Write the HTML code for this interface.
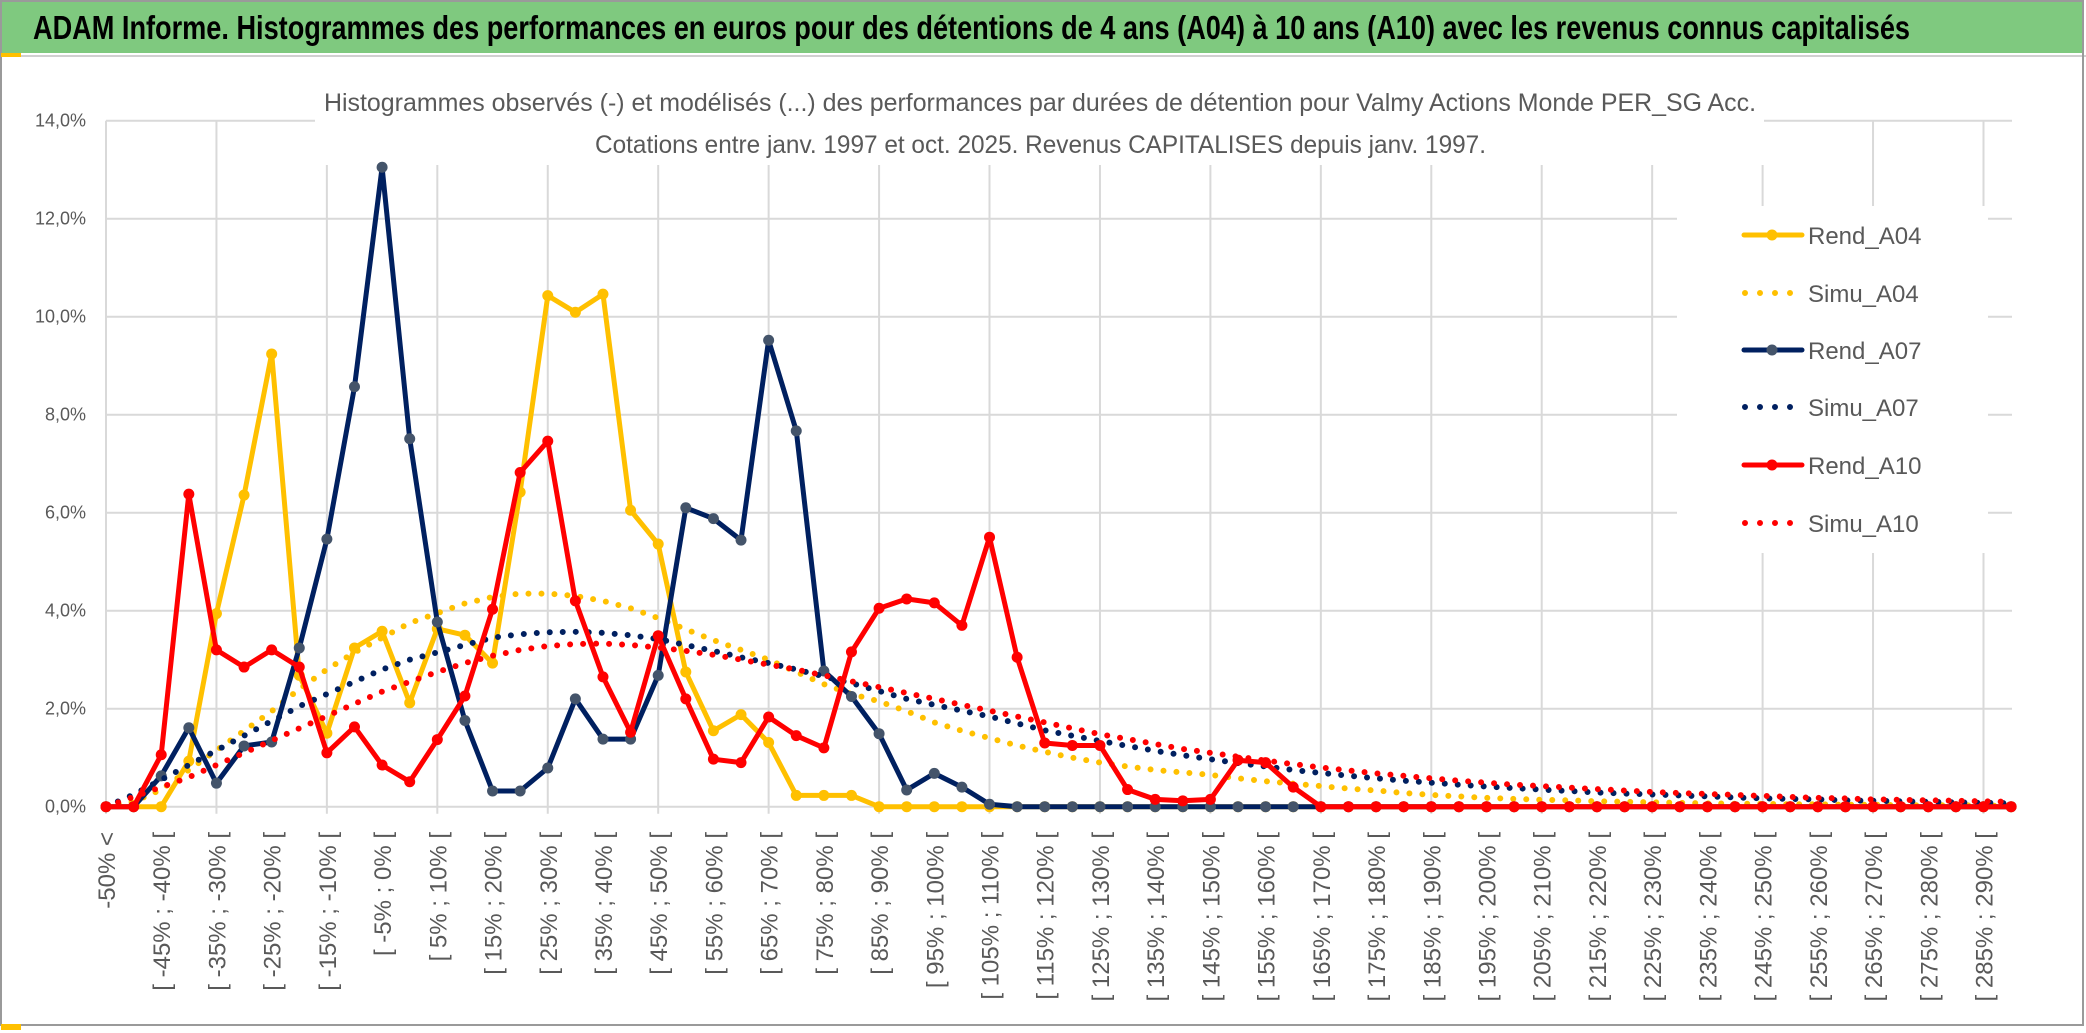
<!DOCTYPE html>
<html><head><meta charset="utf-8"><style>
html,body{margin:0;padding:0;background:#fff;}
svg{display:block;font-family:"Liberation Sans",sans-serif;}
</style></head><body>
<svg id="chart" width="2086" height="1033" viewBox="0 0 2086 1033" xmlns="http://www.w3.org/2000/svg">
<rect x="0" y="0" width="2086" height="1033" fill="#fff"/>
<rect x="1" y="1" width="2082" height="52" fill="#7FC97F"/>
<line x1="0" y1="56" x2="2086" y2="56" stroke="#d0d0d0" stroke-width="2"/>
<rect x="1" y="1" width="2082" height="1024" fill="none" stroke="#9a9a9a" stroke-width="2"/>
<rect x="1" y="53" width="20" height="4" fill="#FFC000"/>
<rect x="1" y="1024" width="20" height="6" fill="#FFC000"/>
<text x="33" y="39" font-size="33" font-weight="bold" fill="#000" textLength="1877" lengthAdjust="spacingAndGlyphs">ADAM Informe. Histogrammes des performances en euros pour des détentions de 4 ans (A04) à 10 ans (A10) avec les revenus connus capitalisés</text>
<g id="grid"></g>
<rect x="315" y="112" width="1449" height="53" fill="#fff"/>
<text x="324" y="111" font-size="25" fill="#595959" textLength="1432" lengthAdjust="spacingAndGlyphs">Histogrammes observés (-) et modélisés (...) des performances par durées de détention pour Valmy Actions Monde PER_SG Acc.</text>
<text x="595" y="153" font-size="25" fill="#595959" textLength="891" lengthAdjust="spacingAndGlyphs">Cotations entre janv. 1997 et oct. 2025. Revenus CAPITALISES depuis janv. 1997.</text>
<g id="yaxis"></g>
<g id="xaxis"></g>
<g id="series"></g>
<rect x="1677" y="206" width="311" height="347" fill="#fff"/>
<g id="legend"></g>
</svg>
<script>
const rendA04 = [0,0,0,0.93,3.94,6.36,9.24,2.68,1.5,3.24,3.58,2.12,3.63,3.5,2.93,6.42,10.43,10.09,10.46,6.05,5.36,2.75,1.55,1.88,1.31,0.23,0.23,0.23,0,0,0,0,0,0,0,0,0,0,0,0,0,0,0,0,0,0,0,0,0,0,0,0,0,0,0,0,0,0,0,0,0,0,0,0,0,0,0,0,0,0];
const simuA04 = [0,0.1,0.35,0.75,1.15,1.55,1.95,2.4,2.8,3.15,3.45,3.75,3.95,4.15,4.28,4.35,4.35,4.3,4.2,4.05,3.85,3.62,3.4,3.2,3.0,2.75,2.5,2.3,2.15,1.95,1.72,1.55,1.4,1.25,1.12,1.0,0.9,0.82,0.75,0.7,0.65,0.58,0.52,0.47,0.42,0.37,0.33,0.28,0.24,0.21,0.18,0.16,0.14,0.13,0.11,0.1,0.09,0.08,0.07,0.06,0.06,0.05,0.05,0.04,0.04,0.03,0.03,0.03,0.02,0.02];
const rendA07 = [0,0,0.63,1.61,0.48,1.24,1.32,3.24,5.46,8.57,13.05,7.51,3.77,1.76,0.32,0.32,0.79,2.2,1.38,1.38,2.68,6.1,5.88,5.44,9.52,7.67,2.77,2.25,1.49,0.34,0.68,0.4,0.05,0,0,0,0,0,0,0,0,0,0,0,0,0,0,0,0,0,0,0,0,0,0,0,0,0,0,0,0,0,0,0,0,0,0,0,0,0];
const simuA07 = [0,0.25,0.55,0.85,1.15,1.45,1.75,2.05,2.3,2.55,2.8,3.0,3.15,3.3,3.45,3.52,3.56,3.57,3.55,3.5,3.42,3.3,3.18,3.05,2.93,2.8,2.66,2.52,2.36,2.2,2.08,1.96,1.84,1.7,1.56,1.45,1.34,1.24,1.14,1.05,0.97,0.89,0.82,0.75,0.69,0.63,0.58,0.53,0.49,0.45,0.41,0.38,0.35,0.32,0.29,0.27,0.25,0.23,0.21,0.19,0.17,0.16,0.15,0.13,0.12,0.11,0.1,0.09,0.08,0.07];
const rendA10 = [0,0,1.06,6.38,3.2,2.85,3.2,2.85,1.1,1.63,0.85,0.51,1.37,2.26,4.03,6.82,7.46,4.2,2.65,1.52,3.49,2.2,0.97,0.9,1.83,1.45,1.2,3.16,4.05,4.24,4.16,3.7,5.5,3.05,1.3,1.25,1.25,0.35,0.15,0.12,0.15,0.95,0.9,0.4,0,0,0,0,0,0,0,0,0,0,0,0,0,0,0,0,0,0,0,0,0,0,0,0,0,0];
const simuA10 = [0,0.2,0.4,0.6,0.85,1.1,1.35,1.6,1.85,2.1,2.35,2.55,2.75,2.93,3.08,3.2,3.28,3.32,3.33,3.3,3.25,3.18,3.1,3.0,2.9,2.8,2.68,2.56,2.44,2.32,2.2,2.08,1.96,1.84,1.72,1.6,1.48,1.38,1.28,1.18,1.1,1.02,0.94,0.87,0.8,0.74,0.68,0.63,0.58,0.53,0.49,0.45,0.42,0.39,0.36,0.33,0.3,0.28,0.26,0.24,0.22,0.2,0.18,0.17,0.15,0.14,0.13,0.12,0.11,0.1];
const yTicks = [0,2,4,6,8,10,12,14];
const categories = [];
categories.push('-50% <');
for (let i = 1; i < 70; i++) { const a = -50 + 5*(i-1); categories.push('[ ' + a + '% ; ' + (a+5) + '% ['); }

const NS = 'http://www.w3.org/2000/svg';
const X0 = 106, STEP = 27.61, Y0 = 806.7, PX = 49, XR = 2012;
function xs(i){ return X0 + i*STEP; }
function ys(v){ return Y0 - v*PX; }
function mk(tag, attrs, parent){ const e = document.createElementNS(NS, tag); for (const k in attrs) e.setAttribute(k, attrs[k]); parent.appendChild(e); return e; }

const grid = document.getElementById('grid');
yTicks.forEach(t => {
  const l = mk('line', {x1:X0, x2:XR, y1:ys(t), y2:ys(t), stroke:'#D9D9D9', 'stroke-width':2}, grid);
  
  
});
for (let i = 0; i < categories.length; i += 4) {
  const l = mk('line', {x1:xs(i), x2:xs(i), y1:ys(14), y2:Y0+7, stroke:'#D9D9D9', 'stroke-width':2}, grid);
  
  
}
const yaxis = document.getElementById('yaxis');
yTicks.forEach(t => {
  const tx = mk('text', {x:86, y:ys(t)+6, 'text-anchor':'end', 'font-size':18, fill:'#595959'}, yaxis);
  
  
  tx.textContent = t.toFixed(1).replace('.', ',') + '%';
});
const xaxis = document.getElementById('xaxis');
categories.forEach((c, i) => {
  if (i % 2 === 1) return;
  const x = xs(i) + 9, y = 832;
  const tx = mk('text', {x:x, y:y, 'text-anchor':'end', 'font-size':24, fill:'#595959', transform:'rotate(-90 '+x+' '+y+')'}, xaxis);
  
  
  tx.textContent = c;
});

const series = [
  {name:'Rend_A04', data:rendA04, color:'#FFC000', marker:'#FFC000', dotted:false},
  {name:'Simu_A04', data:simuA04, color:'#FFC000', dotted:true},
  {name:'Rend_A07', data:rendA07, color:'#002060', marker:'#44546A', dotted:false},
  {name:'Simu_A07', data:simuA07, color:'#002060', dotted:true},
  {name:'Rend_A10', data:rendA10, color:'#FF0000', marker:'#FF0000', dotted:false},
  {name:'Simu_A10', data:simuA10, color:'#FF0000', dotted:true}
];
const sg = document.getElementById('series');
series.forEach(s => {
  const g = mk('g', {}, sg);
  
  
  const pts = s.data.map((v,i) => xs(i).toFixed(1) + ',' + ys(v).toFixed(1)).join(' ');
  const attrs = {points:pts, fill:'none', stroke:s.color, 'stroke-linejoin':'round'};
  if (s.dotted) { attrs['stroke-width'] = 6; attrs['stroke-dasharray'] = '0 13'; attrs['stroke-linecap'] = 'round'; }
  else { attrs['stroke-width'] = 5; }
  const pl = mk('polyline', attrs, g);
  
  
  if (!s.dotted) {
    s.data.forEach((v,i) => {
      const c = mk('circle', {cx:xs(i), cy:ys(v), r:5.5, fill:s.marker}, g);
      
      
    });
  }
});
const lg = document.getElementById('legend');
const legendY = [235, 293, 350, 407, 465, 523];
series.forEach((s, k) => {
  const y = legendY[k];
  const g = mk('g', {}, lg);
  
  
  if (s.dotted) {
    mk('line', {x1:1745, x2:1800, y1:y, y2:y, stroke:s.color, 'stroke-width':6, 'stroke-dasharray':'0 15', 'stroke-linecap':'round'}, g);
  } else {
    mk('line', {x1:1744, x2:1802, y1:y, y2:y, stroke:s.color, 'stroke-width':5, 'stroke-linecap':'round'}, g);
    mk('circle', {cx:1772, cy:y, r:5.5, fill:s.marker}, g);
  }
  const t = mk('text', {x:1808, y:y+9, 'font-size':24, fill:'#595959'}, g);
  
  
  t.textContent = s.name;
});
</script>
</body></html>
